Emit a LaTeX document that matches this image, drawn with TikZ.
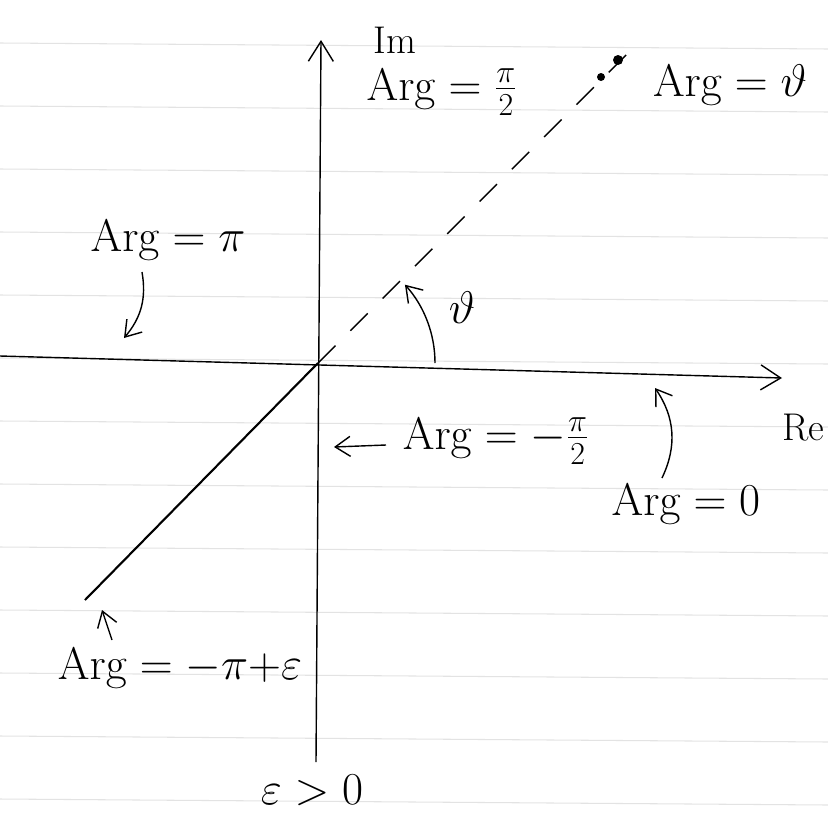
\RequirePackage{fix-cm}
\documentclass[tikz,border=0pt]{standalone}
\usepackage{amsmath}
\usepackage{tikz}
\usetikzlibrary{
  positioning,
  arrows.meta
}

\begin{document}
\begin{tikzpicture}[
  x=0.02cm, y=-0.02cm,
  lbl/.style={font=\fontsize{26}{30}\selectfont, inner sep=1pt},
  small/.style={font=\fontsize{22}{26}\selectfont, inner sep=1pt},
  axis/.style={-{Straight Barb[length=4mm, width=5mm]}, thick},
  arr/.style={-{Straight Barb[length=3mm, width=4mm]}, thick},
  cut/.style={very thick},
  ray/.style={thick, dash pattern=on 14pt off 12pt},
  paper/.style={gray!22, line width=0.6pt}
]
  \useasboundingbox (0,0) rectangle (828,815);

  % notebook lines
  \foreach \y in {43,106,169,232,295,358,421,484,547,610,673,736,799}
    \draw[paper] (0,\y) -- (828,\y+6);

  % axes
  \coordinate (O) at (318,363);
  \coordinate (reL) at (0,356);
  \coordinate (reR) at (782,378);
  \coordinate (imB) at (316,762);
  \coordinate (imT) at (321,40);
  \draw[axis] (reL) -- (reR);
  \draw[axis] (imB) -- (imT);
  \node[small] (im) at (395,40) {Im};
  \node[small] (re) at (803,428) {Re};

  % branch cut and ray
  \coordinate (cutEnd) at (85,600);
  \coordinate (rayEnd) at (627,54);
  \draw[cut] (O) -- (cutEnd);
  \draw[ray] (O) -- (rayEnd);
  \fill (601,77) circle[radius=4];
  \fill (618,60) circle[radius=5];

  % angle
  \coordinate (th0) at (435,363);
  \draw[arr] (th0) arc[start angle=0, end angle=-42, radius=117];
  \node[lbl] (theta) at (462,308) {$\vartheta$};

  % labels
  \node[lbl] (argHalf) at (442,92) {$\mathrm{Arg}=\frac{\pi}{2}$};
  \node[lbl] (argTheta) at (730,85) {$\mathrm{Arg}=\vartheta$};
  \node[lbl] (argPi) at (168,240) {$\mathrm{Arg}=\pi$};
  \node[lbl] (argMHalf) at (496,441) {$\mathrm{Arg}=-\frac{\pi}{2}$};
  \node[lbl] (argZero) at (686,504) {$\mathrm{Arg}=0$};
  \node[lbl] (argCut) at (180,668) {$\mathrm{Arg}={-}\pi{+}\varepsilon$};
  \node[lbl] (eps) at (312,790) {$\varepsilon>0$};

  % pointers
  \coordinate (piA) at (142,272);
  \coordinate (piB) at (124,338);
  \draw[arr] (piA) to[bend left=25] (piB);

  \coordinate (mhA) at (386,445);
  \coordinate (mhB) at (334,447);
  \draw[arr] (mhA) -- (mhB);

  \coordinate (zA) at (662,478);
  \coordinate (zB) at (655,388);
  \draw[arr] (zA) to[bend right=30] (zB);

  \coordinate (cA) at (112,640);
  \coordinate (cB) at (102,610);
  \draw[arr] (cA) -- (cB);
\end{tikzpicture}
\end{document}
